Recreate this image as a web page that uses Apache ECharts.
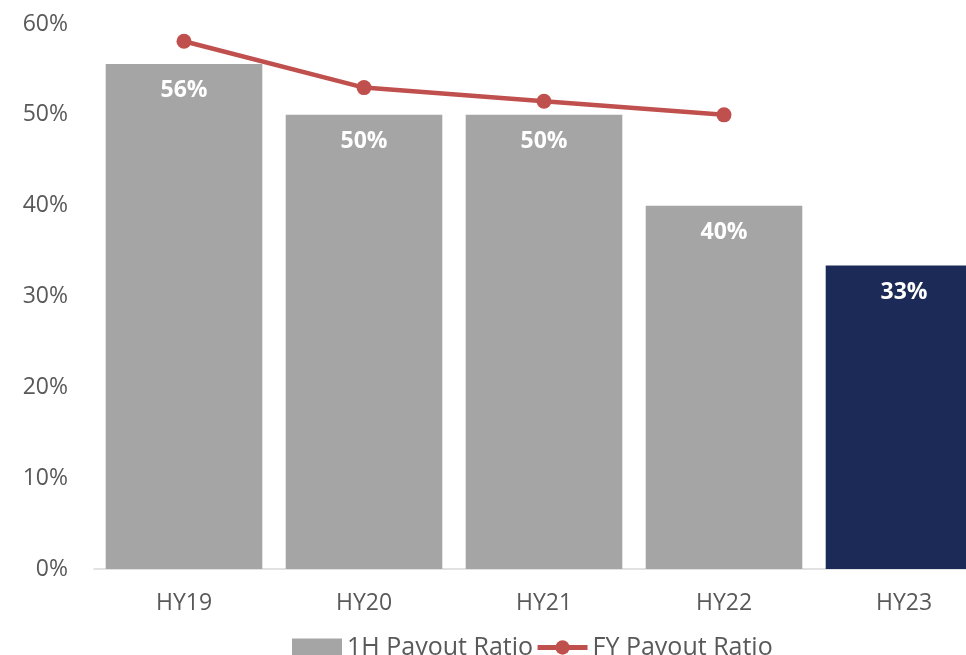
<!DOCTYPE html>
<html>
<head>
<meta charset="utf-8">
<script src="https://cdn.jsdelivr.net/npm/echarts@6/dist/echarts.min.js"></script>
<style>
  html, body { margin: 0; padding: 0; background: #fff; }
  #chart { width: 966px; height: 655px; }
</style>
</head>
<body>
<div id="chart"></div>
<script>
var categories = ['HY19', 'HY20', 'HY21', 'HY22', 'HY23'];
var halfYearRatio = [55.6, 50, 50, 40, 33.4];
var fullYearRatio = [58.1, 53, 51.5, 50, null];
var barColors = ['#A5A5A5', '#A5A5A5', '#A5A5A5', '#A5A5A5', '#1B2A56'];

var chart = echarts.init(document.getElementById('chart'));
var font = 'Open Sans';

var option = {
    animation: false,
    grid: { left: 94, top: 24, bottom: 86, width: 900, outerBoundsMode: 'none', containLabel: false },
    legend: {
        top: 630,
        left: 287,
        itemGap: 2,
        itemWidth: 50,
        itemHeight: 18,
        textStyle: { fontFamily: font, fontSize: 25, color: '#595959' },
        data: [
            { name: '1H Payout Ratio', icon: 'rect' },
            { name: 'FY Payout Ratio', lineStyle: { width: 5 } }
        ]
    },
    xAxis: {
        type: 'category',
        data: categories,
        axisLine: { lineStyle: { color: '#D9D9D9', width: 1.5 } },
        axisTick: { show: false },
        axisLabel: { fontFamily: font, fontSize: 23, color: '#595959', margin: 23 }
    },
    yAxis: {
        type: 'value',
        min: 0,
        max: 60,
        interval: 10,
        splitLine: { show: false },
        axisLine: { show: false },
        axisTick: { show: false },
        axisLabel: { fontFamily: font, fontSize: 23, color: '#595959', margin: 26, formatter: '{value}%' }
    },
    series: [
        {
            name: '1H Payout Ratio',
            type: 'bar',
            barCategoryGap: '13%',
            itemStyle: { color: '#A5A5A5' },
            data: halfYearRatio.map(function (v, i) {
                return { value: v, itemStyle: { color: barColors[i] } };
            }),
            label: {
                show: true,
                position: 'insideTop',
                distance: 15,
                color: '#fff',
                fontFamily: font,
                fontWeight: 'bold',
                fontSize: 23,
                formatter: function (p) { return Math.round(p.value) + '%'; }
            }
        },
        {
            name: 'FY Payout Ratio',
            type: 'line',
            data: fullYearRatio,
            symbol: 'circle',
            symbolSize: 15,
            lineStyle: { color: '#C0504D', width: 4.5 },
            itemStyle: { color: '#C0504D' }
        }
    ]
};
chart.setOption(option);
</script>
</body>
</html>
